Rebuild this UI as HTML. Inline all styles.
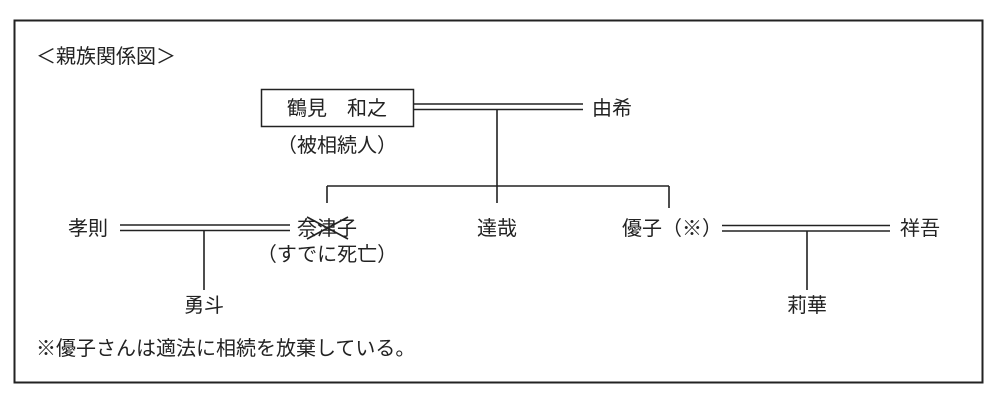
<!DOCTYPE html>
<html><head><meta charset="utf-8"><style>
html,body{margin:0;padding:0;background:#fff;}
svg{display:block}
text{font-family:"Liberation Sans","Noto Sans CJK JP",sans-serif;font-size:20px;fill:#222;}
</style></head><body>
<svg width="1000" height="401" viewBox="0 0 1000 401">
<rect x="14.5" y="20.5" width="968" height="362" fill="#fff" stroke="#222" stroke-width="2"/>
<text x="36" y="63" font-size="21">＜親族関係図＞</text>
<rect x="261.5" y="89.5" width="152" height="37" fill="none" stroke="#222" stroke-width="1.5"/>
<text x="337" y="115" text-anchor="middle">鶴見　和之</text>
<text x="337" y="152" text-anchor="middle">（被相続人）</text>
<g stroke="#222" stroke-width="1.6" fill="none">
<line x1="413" y1="104" x2="583" y2="104"/><line x1="413" y1="109.5" x2="583" y2="109.5"/>
<line x1="497" y1="109" x2="497" y2="203"/>
<line x1="327" y1="186" x2="669" y2="186"/>
<line x1="327" y1="186" x2="327" y2="203"/>
<line x1="669" y1="186" x2="669" y2="208"/>
<line x1="120" y1="225" x2="290" y2="225"/><line x1="120" y1="230.5" x2="290" y2="230.5"/>
<line x1="204" y1="230" x2="204" y2="290"/>
<line x1="722" y1="225.5" x2="890" y2="225.5"/><line x1="722" y1="231" x2="890" y2="231"/>
<line x1="807" y1="231" x2="807" y2="290"/>
<line x1="307" y1="217" x2="348" y2="239"/><line x1="307" y1="239" x2="348" y2="217"/>
</g>
<text x="592" y="115">由希</text>
<text x="68" y="235">孝則</text>
<text x="327" y="235" text-anchor="middle">奈津子</text>
<text x="327" y="261" text-anchor="middle">（すでに死亡）</text>
<text x="497" y="235" text-anchor="middle">達哉</text>
<text x="622" y="235">優子（※）</text>
<text x="900" y="235">祥吾</text>
<text x="204" y="312" text-anchor="middle">勇斗</text>
<text x="807" y="312" text-anchor="middle">莉華</text>
<text x="36" y="355">※優子さんは適法に相続を放棄している。</text>
</svg>
</body></html>
